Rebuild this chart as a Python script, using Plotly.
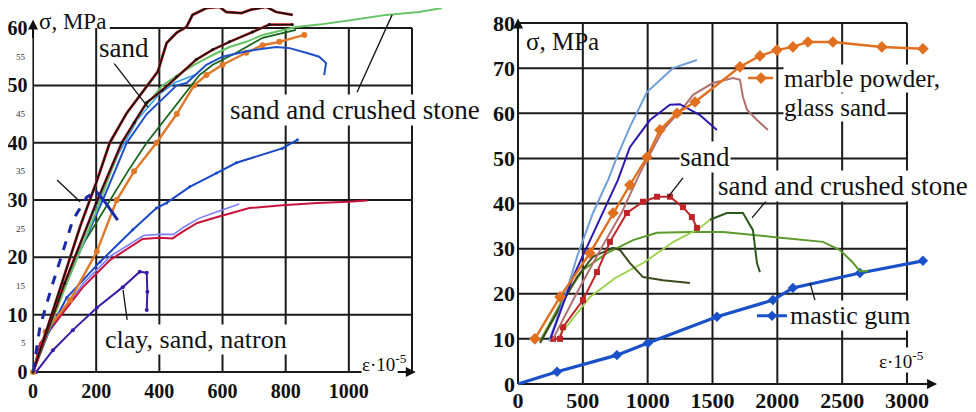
import plotly.graph_objects as go

# ---------------- LEFT PANEL DATA (strain x1e-5, stress MPa) ----------------
sandA_eps = [0, 50, 100, 150, 200, 243, 297, 328, 360, 395, 423, 455, 486, 505, 550, 590, 612, 660, 690, 738, 770, 822]
sandA_sig = [0, 8.5, 17, 25.5, 33, 40, 45.2, 47.5, 50, 52.4, 57.4, 59.2, 60.2, 62.3, 63.5, 63.7, 62.8, 62.6, 63.2, 63.7, 62.8, 62.3]

sandB_eps = [0, 100, 200, 281, 320, 360, 410, 455, 517, 568, 622, 695, 748, 821]
sandB_sig = [0, 15.5, 29.5, 40, 43.5, 47, 49.2, 51.5, 54.5, 56.2, 57.6, 59.3, 60.6, 60.6]

scsC_eps = [0, 100, 200, 281, 350, 410, 464, 517, 569, 622, 675, 727, 833, 906, 1010, 1118, 1222, 1295]
scsC_sig = [0, 14.5, 28, 40, 46, 50, 52, 53.8, 55.3, 56.7, 57.6, 58.8, 60.2, 60.6, 61.4, 62.3, 62.8, 63.5]

dgD_eps = [0, 60, 133, 233, 300, 360, 430, 496, 527, 569, 644, 727, 833]
dgD_sig = [0, 9.4, 20, 29, 35, 40, 45, 49.7, 51.8, 53.6, 55.7, 58.3, 59.7]

orE_eps = [0, 40, 117, 202, 265, 320, 391, 455, 510, 549, 600, 675, 727, 780, 859]
orE_sig = [0, 7, 12.5, 21, 30, 35, 40, 45, 50, 51.8, 53.6, 55.7, 57, 57.6, 58.8]

blF_eps = [0, 100, 221, 297, 360, 455, 486, 549, 600, 680, 770, 812, 865, 906, 928, 922]
blF_sig = [0, 15, 30, 40, 45, 50, 50.4, 53.6, 55, 56, 56.7, 56.5, 55.7, 55, 53.9, 51.8]

cyF_eps = [0, 90, 200, 270, 330, 400, 450, 520]
cyF_sig = [0, 14, 29, 38, 44, 48.5, 50.5, 52]

blG_eps = [0, 50, 107, 212, 316, 391, 423, 496, 581, 644, 789, 837]
blG_sig = [0, 7, 13, 19.2, 24.8, 28.6, 29.5, 32.3, 34.7, 36.5, 39, 40.5]

redH_eps = [0, 22, 85, 158, 243, 347, 400, 442, 474, 520, 581, 685, 790, 900, 1000, 1058]
redH_sig = [0, 5, 9.6, 14.8, 19.5, 23.2, 23.4, 23.3, 24.5, 26, 27, 28.6, 29.1, 29.5, 29.7, 29.9]

lvH_eps = [0, 30, 90, 160, 245, 350, 400, 445, 478, 525, 585, 653]
lvH_sig = [0, 5.6, 10.3, 15.5, 20.2, 23.8, 24, 24, 25.3, 26.8, 28, 29.3]

clayI_eps = [10, 63, 126, 202, 284, 338, 360, 362, 360]
clayI_sig = [0, 3.8, 7.3, 11.2, 14.8, 17.5, 17.3, 14, 10.8]

concJ_eps = [0, 22, 60, 95, 126, 170, 200]
concJ_sig = [0, 7.9, 15, 21.3, 26.5, 30.5, 31.5]
concJ2_eps = [200, 230, 268]
concJ2_sig = [31.5, 29.5, 26.5]

left_xticks = [0, 200, 400, 600, 800, 1000]
left_yticks = [0, 10, 20, 30, 40, 50, 60]
left_minor_y = [5, 15, 25, 35, 45, 55]
left_xgrid = [200, 400, 600, 800, 1000, 1200]
left_ygrid = [10, 20, 30, 40, 50]

# ---------------- RIGHT PANEL DATA ----------------
marble_eps = [130, 324, 555, 733, 863, 995, 1095, 1226, 1365, 1712, 1866, 1997, 2120, 2236, 2429, 2806, 3123]
marble_sig = [10, 19.3, 29, 37.9, 44.1, 50.3, 56.3, 60, 62.5, 70.3, 72.7, 74, 74.7, 75.8, 75.8, 74.7, 74.3]

lblue_eps = [240, 378, 455, 578, 694, 763, 863, 995, 1195, 1380]
lblue_sig = [9.5, 20.8, 28.2, 37.9, 45.2, 50.3, 57, 64.7, 70, 71.8]

navy_eps = [250, 424, 532, 655, 770, 863, 1018, 1172, 1249, 1403, 1534]
navy_sig = [10, 23.7, 30.4, 37.9, 45.2, 52.5, 58.5, 61.9, 62, 59.6, 56.3]

mauve_eps = [270, 450, 640, 800, 941, 1118, 1280, 1350, 1503, 1658, 1712, 1735, 1766, 1843, 1928]
mauve_sig = [10, 20, 30, 38, 46.8, 56.3, 61.5, 64.1, 66.7, 67.8, 67.4, 63.6, 60.8, 58.5, 56.3]

redR_eps = [270, 324, 347, 501, 609, 709, 840, 964, 1072, 1172, 1272, 1341, 1380]
redR_sig = [10, 10, 12.6, 18.6, 24.8, 31.5, 37.9, 40.4, 41.5, 41.5, 39.2, 37, 34.6]

olive_eps = [170, 455, 578, 733, 786, 864, 964, 1118, 1326]
olive_sig = [9.1, 23.7, 28.2, 30.2, 29.7, 26.8, 23.7, 23, 22.4]

green1_eps = [170, 330, 501, 686, 887, 1072, 1326, 1581, 1966, 2352, 2483, 2580, 2637, 2700]
green1_sig = [9.5, 18, 25.3, 29, 31.9, 33.5, 33.7, 33.7, 32.6, 31.5, 29.7, 27, 25, 25]

green2_eps = [300, 555, 750, 964, 1200, 1400, 1480]
green2_sig = [10, 19.3, 23.5, 26.8, 31.5, 34.5, 36.4]
green3_eps = [1480, 1611, 1700, 1735, 1812, 1843, 1866]
green3_sig = [36.4, 37.9, 37.9, 37.9, 34.1, 26.8, 24.8]

mastic_eps = [0, 301, 763, 1002, 1534, 1966, 2120, 2637, 3123]
mastic_sig = [0, 2.7, 6.4, 9.1, 14.9, 18.6, 21.3, 24.6, 27.3]

right_xticks = [0, 500, 1000, 1500, 2000, 2500, 3000]
right_yticks = [0, 10, 20, 30, 40, 50, 60, 70, 80]
right_xgrid = [500, 1000, 1500, 2000, 2500, 3000]
right_ygrid = [10, 20, 30, 40, 50, 60, 70, 80]

FONT = "Liberation Serif"

fig = go.Figure()


def add(ax, x, y, color, width=2.0, dash="solid", marker=None, msize=6, mode=None):
    xa, ya = ("x", "y") if ax == 1 else ("x2", "y2")
    kw = dict(x=x, y=y, xaxis=xa, yaxis=ya, showlegend=False, hoverinfo="skip", cliponaxis=False,
              line=dict(color=color, width=width, dash=dash))
    if marker:
        kw["mode"] = mode or "lines+markers"
        kw["marker"] = dict(symbol=marker, size=msize, color=color)
    else:
        kw["mode"] = "lines"
    fig.add_trace(go.Scatter(**kw))


def grid_path(vx, vy0, vy1, hy, hx0, hx1):
    gx, gy = [], []
    for v in vx:
        gx += [v, v, None]
        gy += [vy0, vy1, None]
    for h in hy:
        gx += [hx0, hx1, None]
        gy += [h, h, None]
    return gx, gy


# grid (drawn first, beneath the curves)
lgx, lgy = grid_path(left_xgrid, 0, 60, left_ygrid, 0, 1200)
lgx += [243, 1200, None, 0, 0, None, 0, 1205]
lgy += [60, 60, None, 0, 60.5, None, 0, 0]
add(1, lgx, lgy, "#1a1a1a", 2.0)
rgx, rgy = grid_path(right_xgrid, 0, 80, right_ygrid, 0, 3000)
rgx += [0, 0, None, 0, 3220]
rgy += [0, 80.3, None, 0, 0]
add(2, rgx, rgy, "#1a1a1a", 2.0)

# curves left
add(1, lvH_eps, lvH_sig, "#7d7dff", 1.6)
add(1, redH_eps, redH_sig, "#c8143c", 2.0)
add(1, clayI_eps, clayI_sig, "#3a1aa8", 2.0, marker="circle", msize=4)
add(1, blG_eps, blG_sig, "#1848c8", 2.0, marker="circle", msize=3)
add(1, orE_eps, orE_sig, "#e0782a", 2.4, marker="circle", msize=6)
add(1, dgD_eps, dgD_sig, "#17641a", 1.8)
add(1, cyF_eps, cyF_sig, "#2fa0f0", 1.6)
add(1, blF_eps, blF_sig, "#1f50c8", 2.0)
add(1, scsC_eps, scsC_sig, "#66c466", 2.0)
add(1, sandB_eps, sandB_sig, "#c02020", 2.6)
add(1, sandB_eps, sandB_sig, "#111111", 1.4, marker="circle", msize=3)
add(1, sandA_eps, sandA_sig, "#c02020", 2.8)
add(1, sandA_eps, sandA_sig, "#111111", 1.6)
add(1, concJ_eps, concJ_sig, "#1a2aa8", 3.0, dash="dash")
add(1, concJ2_eps, concJ2_sig, "#1a2aa8", 3.0)

# curves right
add(2, mastic_eps, mastic_sig, "#1a50c8", 3.2)
add(2, mastic_eps[1:], mastic_sig[1:], "#1a50c8", 3.2, marker="diamond", msize=8, mode="markers")
add(2, green1_eps, green1_sig, "#5a9a2a", 2.0)
add(2, green2_eps, green2_sig, "#9ad04a", 1.8)
add(2, green3_eps, green3_sig, "#2a5a1a", 2.0)
add(2, olive_eps, olive_sig, "#3a4a1a", 2.0)
add(2, redR_eps, redR_sig, "#c02428", 2.0, marker="square", msize=6)
add(2, mauve_eps, mauve_sig, "#b07070", 2.0)
add(2, lblue_eps, lblue_sig, "#6f9fd8", 2.0, marker="cross-thin", msize=5)
add(2, navy_eps, navy_sig, "#2a1ab0", 2.0)
add(2, marble_eps, marble_sig, "#e07020", 2.4, marker="diamond", msize=9)

# legend-like marker samples in the right panel
add(2, [1774, 1967], [67.8, 67.8], "#e07020", 2.4)
add(2, [1874], [67.8], "#e07020", 2.4, marker="diamond", msize=9, mode="markers")
add(2, [1843, 2074], [15.1, 15.1], "#1a50c8", 3.0)
add(2, [1959], [15.1], "#1a50c8", 3.0, marker="diamond", msize=8, mode="markers")

# leader lines
ll = dict(color="#111111", width=1.3)
shapes = []
for xr, yr, x0, y0, x1, y1 in [
    ("x", "y", 253, 54.1, 364, 46.2),
    ("x", "y", 1026, 48.8, 1137, 62.3),
    ("x", "y", 76, 33.5, 149, 29.7),
    ("x", "y", 298, 9.1, 285, 14.3),
    ("x2", "y2", 1272, 45.7, 1157, 41.4),
    ("x2", "y2", 1920, 40.8, 1805, 36.8),
    ("x2", "y2", 2252, 22.4, 2290, 18.6),
]:
    shapes.append(dict(type="line", xref=xr, yref=yr, x0=x0, y0=y0, x1=x1, y1=y1, line=ll))

ann = []


def text(xr, yr, x, y, t, size=26, anchor="left", bg=None):
    d = dict(xref=xr, yref=yr, x=x, y=y, text=t, showarrow=False, xanchor=anchor, yanchor="middle",
             font=dict(family=FONT, size=size, color="#111111"))
    if bg:
        d["bgcolor"] = bg
        d["borderpad"] = 0
    ann.append(d)


text("x", "y", 12, 61.1, "σ, MPa", 23)
text("x", "y", 206, 56.5, "sand", 27, bg="white")
text("x", "y", 620, 45.7, "sand and crushed stone", 27, bg="white")
text("x", "y", -9, 37, "Concrete", 25)
text("x", "y", 225, 5.6, "clay, sand, natron", 26, bg="white")
text("x", "y", 1040, 1.6, "ε·10<sup>-5</sup>", 19, bg="white")

text("x2", "y2", 50, 76, "σ, MPa", 25)
text("x2", "y2", 2040, 67.6, "marble powder,", 25, bg="white")
text("x2", "y2", 2040, 61.2, "glass sand", 25, bg="white")
text("x2", "y2", 1245, 50.3, "sand", 27, bg="white")
text("x2", "y2", 1535, 43.9, "sand and crushed stone", 27, bg="white")
text("x2", "y2", 2090, 15.1, "mastic gum", 26, bg="white")
text("x2", "y2", 2780, 5.3, "ε·10<sup>-5</sup>", 19, bg="white")

for v in left_minor_y:
    ann.append(dict(xref="paper", yref="y", x=20 / 968, y=v, text=str(v), showarrow=False,
                    xanchor="right", yanchor="middle", font=dict(family=FONT, size=9, color="#333")))

# axis arrowheads
for xr, yr, x, y, ax, ay in [
    ("x", "y", 0, 61.5, 0, 58),
    ("x", "y", 1212, 0, 1150, 0),
    ("x2", "y2", 0, 81.0, 0, 78),
    ("x2", "y2", 3232, 0, 3150, 0),
]:
    ann.append(dict(xref=xr, yref=yr, axref=xr, ayref=yr, x=x, y=y, ax=ax, ay=ay, text="",
                    showarrow=True, arrowhead=2, arrowsize=1, arrowwidth=2, arrowcolor="#111111"))

tfl = dict(family=FONT, size=20, color="#111111", weight="bold")
tfr = dict(family=FONT, size=22, color="#111111", weight="bold")
ax_common = dict(showgrid=False, zeroline=False, showline=False, ticks="", automargin=False)

# the page body adds an 8px offset, so the figure is 8px smaller than the window
fig.update_layout(
    template="none",
    width=968, height=404, margin=dict(l=0, r=0, t=0, b=0, autoexpand=False),
    font=dict(family=FONT),
    paper_bgcolor="white", plot_bgcolor="white", showlegend=False,
    shapes=shapes, annotations=ann,
    xaxis=dict(domain=[0.02521, 0.4565], range=[-2, 1320], anchor="y", tickvals=left_xticks,
               tickfont=tfl, ticklabelstandoff=3, **ax_common),
    yaxis=dict(domain=[0.0948, 1.0], range=[-0.3, 63.5], anchor="x", tickvals=left_yticks,
               tickfont=tfl, ticklabelstandoff=4, **ax_common),
    xaxis2=dict(domain=[0.52579, 0.96219], range=[-8, 3250], anchor="y2", tickvals=right_xticks,
                tickfont=tfr, ticklabelstandoff=0, **ax_common),
    yaxis2=dict(domain=[0.06597, 0.98515], range=[-0.3, 82], anchor="x2", tickvals=right_yticks,
                tickfont=tfr, ticklabelstandoff=1, **ax_common),
)

fig.write_html("out.html")
